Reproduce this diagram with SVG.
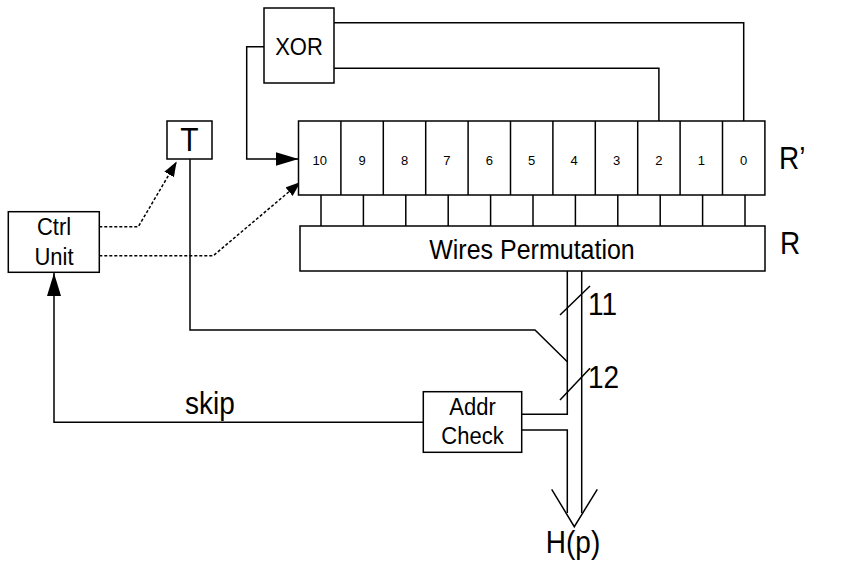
<svg xmlns="http://www.w3.org/2000/svg" width="850" height="564" viewBox="0 0 850 564">
<style>
.box{fill:#fff;stroke:#000;stroke-width:1.5}
.ln{fill:none;stroke:#000;stroke-width:1.5}
.dot{fill:none;stroke:#000;stroke-width:1.5;stroke-dasharray:3,2}
text{font-family:"Liberation Sans",Arial,sans-serif;fill:#000}
.lbl{font-size:22px;text-anchor:middle}
.cell{font-size:13px;text-anchor:middle}
.big{font-size:28px}
</style>
<defs>
<marker id="ah" markerUnits="userSpaceOnUse" markerWidth="24" markerHeight="16" refX="23" refY="7" orient="auto">
<path d="M0,0 L23,7 L0,14 Z" fill="#000"/>
</marker>
<marker id="as" markerUnits="userSpaceOnUse" markerWidth="16" markerHeight="12" refX="15" refY="5.5" orient="auto">
<path d="M0,0 L15,5.5 L0,11 Z" fill="#000"/>
</marker>
</defs>
<rect width="850" height="564" fill="#fff"/>
<g id="connectors">
<path class="ln" d="M334,22.7 H743.7 V121"/>
<path class="ln" d="M334,68.3 H658.9 V121"/>
<path class="ln" d="M264,46.7 H246.7 V159 H298.5" marker-end="url(#ah)"/>
<path class="dot" d="M99.3,226.7 H138.3 L176.7,161.5" marker-end="url(#as)"/>
<path class="dot" d="M99.3,255.7 H213.3 L300.5,182" marker-end="url(#as)"/>
<path class="ln" d="M190,159.3 V330 H535 L567.3,361.7"/>
<path class="ln" d="M423.3,422.3 H54 V273" marker-end="url(#ah)"/>
<path class="ln" d="M567.3,271 V414.3 H521.7"/>
<path class="ln" d="M521.7,430 H567.3 V513"/>
<path class="ln" d="M581.7,271 V513"/>
<path class="ln" d="M551.7,489.3 L574.3,526.7 L597.3,489.3"/>
<path class="ln" d="M560,315 L590,286"/>
<path class="ln" d="M560,400 L590,368.3"/>
<g class="ln">
<path d="M321,195 V226"/><path d="M363.4,195 V226"/><path d="M405.8,195 V226"/><path d="M448.2,195 V226"/><path d="M490.6,195 V226"/><path d="M533,195 V226"/><path d="M575.4,195 V226"/><path d="M617.8,195 V226"/><path d="M660.2,195 V226"/><path d="M702.6,195 V226"/><path d="M745,195 V226"/>
</g>
<text class="big" transform="translate(588,315) scale(1,1.12)">11</text>
<text class="big" transform="translate(588,388) scale(1,1.12)">12</text>
<text class="big" text-anchor="middle" transform="translate(210,414) scale(1,1.12)">skip</text>
<text class="big" text-anchor="middle" transform="translate(573,553) scale(1,1.12)">H(p)</text>
</g>
<g id="xor">
<rect class="box" x="264" y="8" width="70" height="75"/>
<text class="lbl" transform="translate(299,55) scale(1,1.12)">XOR</text>
</g>
<g id="register">
<rect class="box" x="298.5" y="121" width="466.4" height="74"/>
<g class="ln">
<path d="M340.9,121 V195"/><path d="M383.3,121 V195"/><path d="M425.7,121 V195"/><path d="M468.1,121 V195"/><path d="M510.5,121 V195"/><path d="M552.9,121 V195"/><path d="M595.3,121 V195"/><path d="M637.7,121 V195"/><path d="M680.1,121 V195"/><path d="M722.5,121 V195"/>
</g>
<text class="cell" x="319.7" y="164.5">10</text>
<text class="cell" x="362.1" y="164.5">9</text>
<text class="cell" x="404.5" y="164.5">8</text>
<text class="cell" x="446.9" y="164.5">7</text>
<text class="cell" x="489.3" y="164.5">6</text>
<text class="cell" x="531.7" y="164.5">5</text>
<text class="cell" x="574.1" y="164.5">4</text>
<text class="cell" x="616.5" y="164.5">3</text>
<text class="cell" x="658.9" y="164.5">2</text>
<text class="cell" x="701.3" y="164.5">1</text>
<text class="cell" x="743.7" y="164.5">0</text>
<text class="big" transform="translate(779,169) scale(1,1.12)">R’</text>
</g>
<g id="wires">
<rect class="box" x="300" y="226" width="465" height="45"/>
<text font-size="25" text-anchor="middle" transform="translate(532,259) scale(1,1.12)">Wires Permutation</text>
<text class="big" transform="translate(780,254) scale(1,1.12)">R</text>
</g>
<g id="t">
<rect class="box" x="167" y="121" width="45" height="38"/>
<text font-size="30" text-anchor="middle" transform="translate(189.5,151) scale(1,1.1)">T</text>
</g>
<g id="ctrl">
<rect class="box" x="8.3" y="211.7" width="91" height="60.6"/>
<text class="lbl" transform="translate(54,235) scale(1,1.12)">Ctrl</text>
<text class="lbl" transform="translate(54,264.5) scale(1,1.12)">Unit</text>
</g>
<g id="addr">
<rect class="box" x="423.3" y="391.7" width="98.4" height="60.6"/>
<text class="lbl" transform="translate(472.5,415) scale(1,1.12)">Addr</text>
<text class="lbl" transform="translate(472.5,443.5) scale(1,1.12)">Check</text>
</g>
</svg>
